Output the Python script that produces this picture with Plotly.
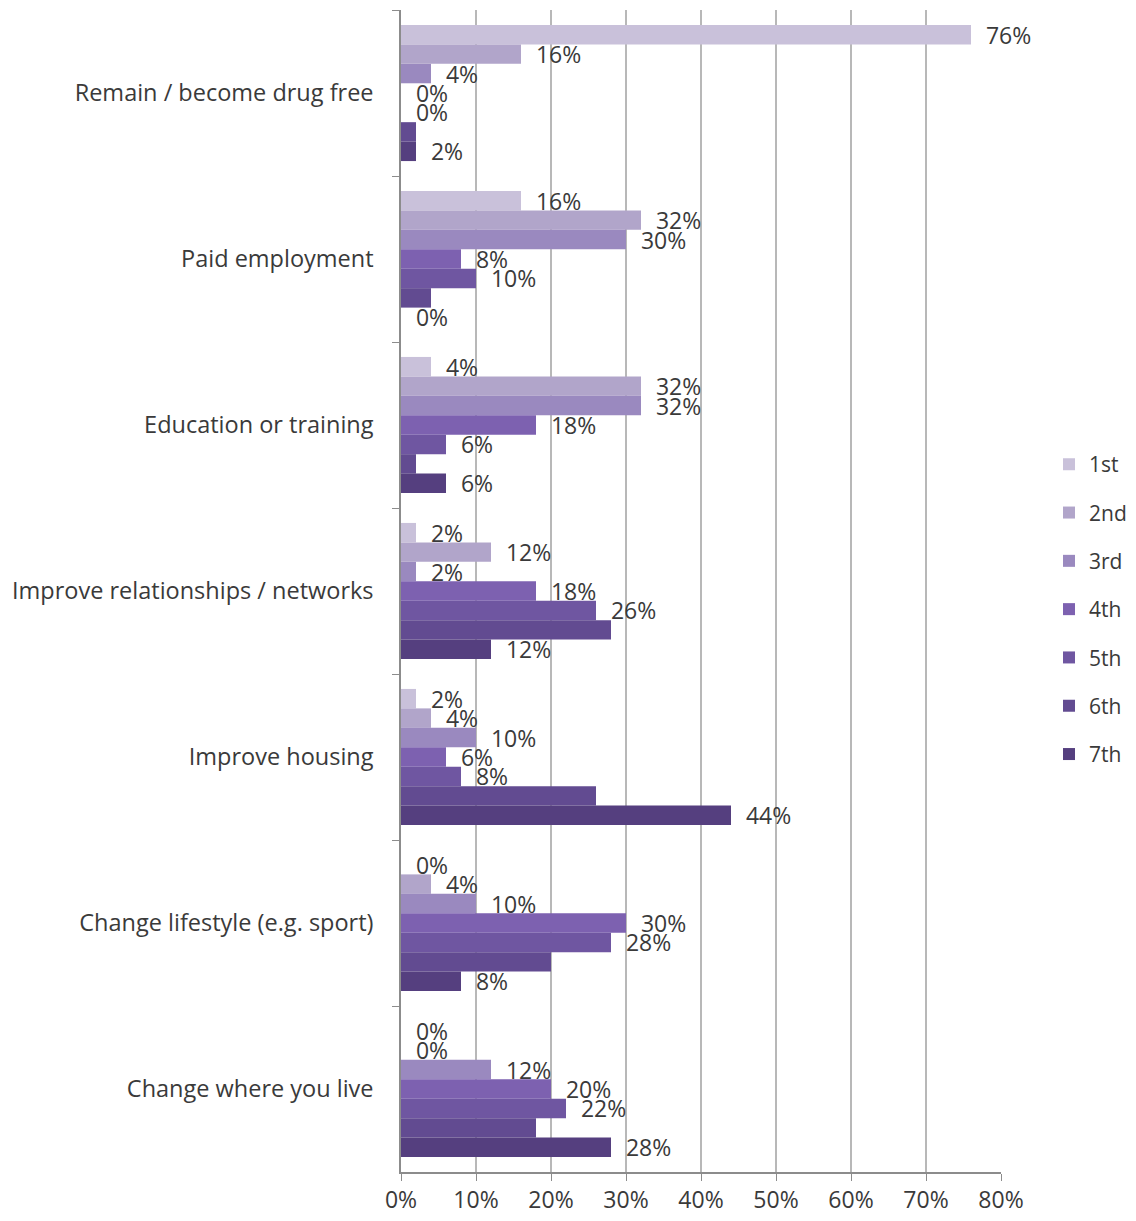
import plotly.graph_objects as go

categories = [
    "Remain / become drug free",
    "Paid employment",
    "Education or training",
    "Improve relationships / networks",
    "Improve housing",
    "Change lifestyle (e.g. sport)",
    "Change where you live",
]
series_names = ["1st", "2nd", "3rd", "4th", "5th", "6th", "7th"]
values = {
    "1st": [76, 16, 4, 2, 2, 0, 0],
    "2nd": [16, 32, 32, 12, 4, 4, 0],
    "3rd": [4, 30, 32, 2, 10, 10, 12],
    "4th": [0, 8, 18, 18, 6, 30, 20],
    "5th": [0, 10, 6, 26, 8, 28, 22],
    "6th": [2, 4, 2, 28, 26, 20, 18],
    "7th": [2, 0, 6, 12, 44, 8, 28],
}
show_labels = {"1st": True, "2nd": True, "3rd": True, "4th": True,
               "5th": True, "6th": False, "7th": True}
colors = ["#c9c1da", "#b1a5ca", "#9a89bf", "#7d61b0", "#6f56a1", "#624b91", "#553f7f"]
x_ticks = [0, 10, 20, 30, 40, 50, 60, 70, 80]

FONT = "Open Sans"
FS = 23
TXT = "#3a3a3a"
PAD = "\u00a0\u00a0"

fig = go.Figure()
for i, name in enumerate(series_names):
    vals = values[name]
    fig.add_trace(go.Bar(
        y=categories,
        x=vals,
        name=name,
        orientation="h",
        marker=dict(color=colors[i], line=dict(width=0)),
        text=[f"{PAD}{v}%" for v in vals] if show_labels[name] else None,
        textposition="outside",
        textfont=dict(family=FONT, size=FS, color=TXT),
        constraintext="none",
        cliponaxis=False,
        legendgroup=name,
    ))

fig.update_layout(
    width=1136,
    height=1221,
    margin=dict(l=393, r=143, t=2, b=57, autoexpand=False),
    paper_bgcolor="white",
    plot_bgcolor="white",
    barmode="group",
    bargap=0.18,
    bargroupgap=0,
    font=dict(family=FONT, size=FS, color=TXT),
    showlegend=True,
    legend=dict(
        x=1.080, xanchor="left", y=0.484, yanchor="middle",
        traceorder="grouped", tracegroupgap=18,
        font=dict(family=FONT, size=21, color=TXT),
        itemwidth=30,
    ),
    xaxis=dict(
        range=[0, 80],
        tickvals=x_ticks,
        ticktext=[f"{v}%" for v in x_ticks],
        showgrid=True,
        gridcolor="#b8b8b8",
        gridwidth=1.5,
        showline=True,
        linecolor="#8c8c8c",
        linewidth=1.5,
        ticks="outside",
        ticklen=7,
        tickcolor="#8c8c8c",
        zeroline=False,
        automargin=False,
        tickfont=dict(family=FONT, size=FS, color=TXT),
    ),
    yaxis=dict(
        autorange="reversed",
        showline=True,
        linecolor="#8c8c8c",
        linewidth=1.5,
        ticks="outside",
        tickson="boundaries",
        ticklen=7,
        tickcolor="#8c8c8c",
        ticklabelstandoff=21,
        showgrid=False,
        automargin=False,
        tickfont=dict(family=FONT, size=23.5, color=TXT),
    ),
)

fig.write_html("out.html")
